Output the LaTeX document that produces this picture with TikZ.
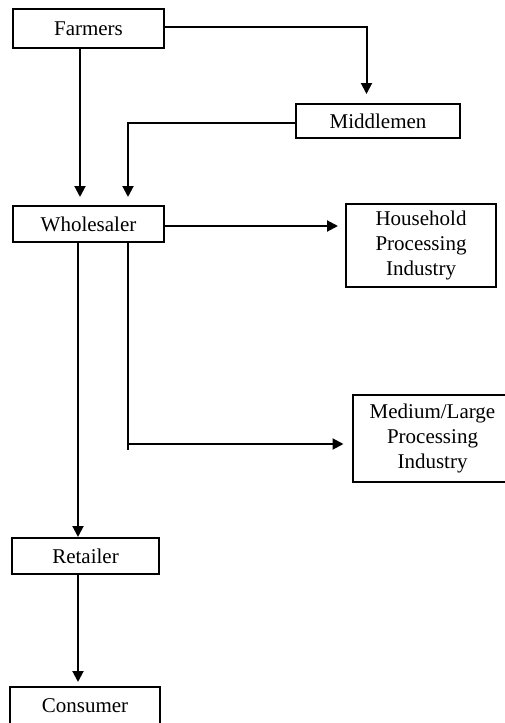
\documentclass[tikz,border=0pt]{standalone}
\usepackage{fontspec}
\setmainfont{Liberation Serif}
\usetikzlibrary{arrows.meta}
\begin{document}
\begin{tikzpicture}[x=1pt,y=-1pt,
  box/.style={draw, line width=2pt, inner sep=0pt, align=center,
    font=\fontsize{21}{25}\selectfont},
  link/.style={line width=2pt},
  flow/.style={link, -{Triangle[length=11pt,width=11pt]}}]
\useasboundingbox (0,0) rectangle (505,723);
\clip (0,0) rectangle (505,723);

% stages of the supply chain
\node[box, minimum width=151pt, minimum height=39pt] (farmers) at (88.5,28.5) {Farmers};
\node[box, minimum width=164pt, minimum height=34pt] (middlemen) at (378,121) {Middlemen};
\node[box, minimum width=151pt, minimum height=36pt] (wholesaler) at (88.5,224) {Wholesaler};
\node[box, minimum width=150pt, minimum height=83pt] (household) at (421,245.5)
  {Household\\Processing\\Industry};
\node[box, minimum width=159pt, minimum height=87pt] (medium) at (432.5,438.5)
  {Medium/Large\\Processing\\Industry};
\node[box, minimum width=147pt, minimum height=36pt] (retailer) at (85.5,556) {Retailer};
\node[box, minimum width=150pt, minimum height=37pt] (consumer) at (85,705.5) {Consumer};

% arrow ends and bends
\coordinate (fm) at (366.5,94);
\coordinate (mw) at (128,197);
\coordinate (fw) at (80,197);
\coordinate (wh) at (338,226);
\coordinate (wsplit) at (128,242);
\coordinate (wend) at (128,450);
\coordinate (wbranch) at (128,444);
\coordinate (wl) at (343.5,444);

% flows
\draw[flow] (farmers.east |- 0,26.5) -| (fm);
\draw[flow] (middlemen.west |- 0,123) -| (mw);
\draw[flow] (farmers.south -| fw) -- (fw);
\draw[flow] (wholesaler.east |- wh) -- (wh);
\draw[link] (wsplit) -- (wend);
\draw[flow] (wbranch) -- (wl);
\draw[flow] (wholesaler.south -| 78,0) -- (retailer.north -| 78,0);
\draw[flow] (retailer.south -| 78,0) -- (78,682);
\end{tikzpicture}
\end{document}
